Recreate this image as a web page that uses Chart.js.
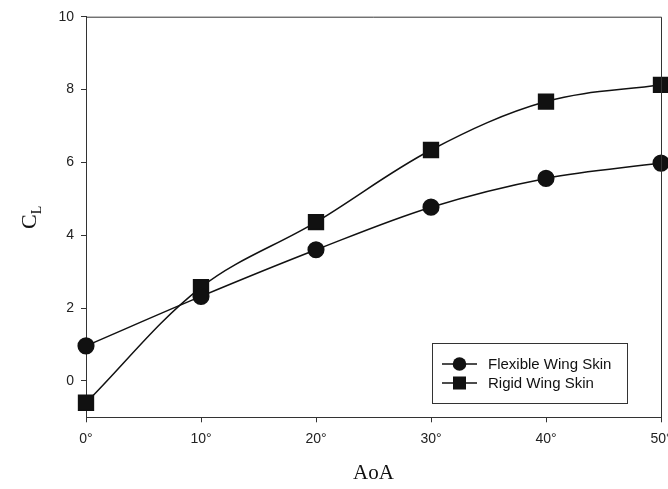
<!DOCTYPE html>
<html>
<head>
<meta charset="utf-8">
<script src="https://cdn.jsdelivr.net/npm/chart.js@4/dist/chart.umd.min.js"></script>
<style>
  html, body { margin: 0; padding: 0; background: #fff; }
  #wrap { width: 668px; height: 489px; }
</style>
</head>
<body>
<div id="wrap"><canvas id="myChart"></canvas></div>
<script>
// data
const aoaLabels = ['0°', '10°', '20°', '30°', '40°', '50°'];
const flexibleCL = [0.96, 2.32, 3.60, 4.77, 5.56, 5.98];
const rigidCL = [-0.60, 2.57, 4.36, 6.34, 7.67, 8.13];
const yTicks = [0, 2, 4, 6, 8, 10];

const ink = '#111';
const axisInk = '#333';

// frame, y title with subscript, boxed legend
const extras = {
    id: 'extras',
    afterDraw(chart) {
        const c = chart.ctx;
        const a = chart.chartArea;
        c.save();
        c.strokeStyle = axisInk;
        c.lineWidth = 1;
        c.beginPath();
        c.moveTo(a.left, a.top + 0.5);
        c.lineTo(a.right + 0.5, a.top + 0.5);
        c.lineTo(a.right + 0.5, a.bottom);
        c.stroke();

        // y title: C with subscript L
        c.translate(29, 216);
        c.rotate(-Math.PI / 2);
        c.fillStyle = ink;
        c.textBaseline = 'alphabetic';
        c.font = '22px "Liberation Serif", "Times New Roman", serif';
        c.textAlign = 'left';
        const cw = c.measureText('C').width;
        c.fillText('C', -13, 7);
        c.font = '14px "Liberation Serif", "Times New Roman", serif';
        c.fillText('L', -13 + cw, 12);
        c.restore();

        // legend
        c.save();
        const bx = 432.5, by = 343.5, bw = 195, bh = 60;
        c.fillStyle = '#fff';
        c.fillRect(bx, by, bw, bh);
        c.strokeStyle = axisInk;
        c.lineWidth = 1;
        c.strokeRect(bx, by, bw, bh);
        const rows = [364, 383];
        chart.data.datasets.forEach((ds, i) => {
            const y = rows[i];
            c.strokeStyle = ink;
            c.lineWidth = 1.5;
            c.beginPath();
            c.moveTo(442, y);
            c.lineTo(477, y);
            c.stroke();
            c.fillStyle = ink;
            if (ds.pointStyle === 'rect') {
                c.fillRect(459.5 - 6.5, y - 6.5, 13, 13);
            } else {
                c.beginPath();
                c.arc(459.5, y, 6.8, 0, Math.PI * 2);
                c.fill();
            }
            c.font = '15px "Liberation Sans", Arial, sans-serif';
            c.textAlign = 'left';
            c.textBaseline = 'middle';
            c.fillText(ds.label, 488, y + 0.5);
        });
        c.restore();
    }
};

const ctx = document.getElementById('myChart').getContext('2d');
const myChart = new Chart(ctx, {
    type: 'line',
    data: {
        labels: aoaLabels,
        datasets: [{
            label: 'Flexible Wing Skin',
            data: flexibleCL,
            borderColor: ink,
            backgroundColor: ink,
            borderWidth: 1.5,
            pointStyle: 'circle',
            pointRadius: 7.8,
            tension: 0.35,
            clip: false
        }, {
            label: 'Rigid Wing Skin',
            data: rigidCL,
            borderColor: ink,
            backgroundColor: ink,
            borderWidth: 1.5,
            pointStyle: 'rect',
            pointRadius: 10.5,
            tension: 0.35,
            clip: false
        }]
    },
    options: {
        responsive: true,
        maintainAspectRatio: false,
        animation: false,
        events: [],
        layout: { autoPadding: false, padding: { top: 16.7, right: 7, left: 0, bottom: 0 } },
        plugins: {
            legend: { display: false },
            tooltip: { enabled: false }
        },
        scales: {
            x: {
                offset: false,
                grid: { drawOnChartArea: false, drawTicks: true, tickLength: 5, color: axisInk },
                border: { display: true, color: axisInk, width: 1 },
                ticks: {
                    color: '#222',
                    padding: 8,
                    maxRotation: 0,
                    font: { family: '"Liberation Sans", Arial, sans-serif', size: 14 }
                },
                title: {
                    display: true,
                    text: 'AoA',
                    color: ink,
                    padding: { top: 0, bottom: 3 },
                    font: { family: '"Liberation Serif", "Times New Roman", serif', size: 21 }
                },
                afterFit: s => { s.height = 71.7; s.paddingLeft = 0; s.paddingRight = 0; }
            },
            y: {
                min: -1,
                max: 10,
                afterBuildTicks: s => { s.ticks = yTicks.map(v => ({ value: v })); },
                grid: { drawOnChartArea: false, drawTicks: true, tickLength: 5, color: axisInk },
                border: { display: true, color: axisInk, width: 1 },
                ticks: {
                    color: '#222',
                    padding: 7,
                    font: { family: '"Liberation Sans", Arial, sans-serif', size: 14 }
                },
                afterFit: s => { s.width = 86; s.paddingTop = 0; s.paddingBottom = 0; }
            }
        }
    },
    plugins: [extras]
});
</script>
</body>
</html>
